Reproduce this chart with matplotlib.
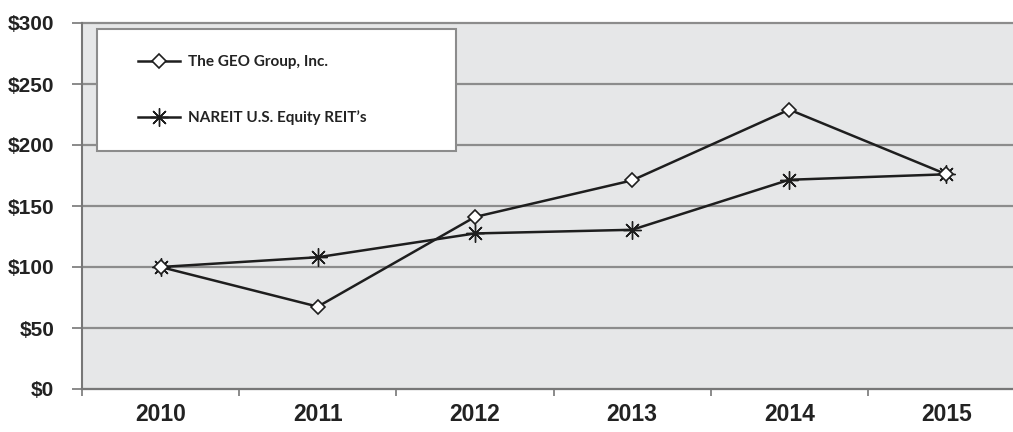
import numpy as np
import matplotlib
matplotlib.use("Agg")
import matplotlib.pyplot as plt
from matplotlib.patches import Rectangle

# values (indexed to $100 in 2010)
years = ["2010", "2011", "2012", "2013", "2014", "2015"]
geo_values = [100, 67.5, 141, 171, 229, 176]
nareit_values = [100, 108, 127.5, 130.5, 171.5, 176]
y_ticks = [0, 50, 100, 150, 200, 250, 300]
y_labels = ["$0", "$50", "$100", "$150", "$200", "$250", "$300"]
series_names = ["The GEO Group, Inc.", "NAREIT U.S. Equity REIT\u2019s"]

W, H = 1013, 432
fig = plt.figure(figsize=(W / 100, H / 100), dpi=100)
fig.patch.set_facecolor("white")

# axes runs a bit past the right edge of the image, like the original crop
ax = fig.add_axes([82 / W, 43 / H, (1025 - 82) / W, (389 - 23) / H])
ax.set_facecolor("#e6e7e8")

x = np.arange(len(years))
line_col = "#1e1e1e"
ax.plot(x, geo_values, color=line_col, lw=1.8, marker="D", ms=7,
        mfc="white", mec=line_col, mew=1.2, label=series_names[0], zorder=4)
ax.plot(x, nareit_values, color=line_col, lw=1.8, marker=(8, 2, 0), ms=13,
        mec=line_col, mew=1.0, label=series_names[1], zorder=3)

ax.set_xlim(-0.5, len(years) - 0.5)
ax.set_ylim(0, 300)

# gridlines
ax.set_yticks(y_ticks)
ax.set_yticklabels(y_labels)
ax.yaxis.grid(True, color="#8c8c8c", lw=1.6)
for gl in ax.get_ygridlines():
    gl.set_clip_on(False)
ax.set_axisbelow(True)

# category labels in the middle, tick marks at the boundaries
ax.set_xticks(np.arange(len(years) + 1) - 0.5)
ax.set_xticklabels([])
ax.set_xticks(x, minor=True)
ax.set_xticklabels(years, minor=True)
ax.tick_params(axis="x", which="major", length=5, width=1.2, color="#777777", direction="out")
ax.tick_params(axis="x", which="minor", length=0, pad=10)
ax.tick_params(axis="y", length=7, width=1.2, color="#777777", pad=13)

for lab in ax.get_xticklabels(minor=True):
    lab.set_fontfamily("Liberation Sans")
    lab.set_fontweight("bold")
    lab.set_fontsize(16.5)
    lab.set_color("#222222")
for lab in ax.get_yticklabels():
    lab.set_fontfamily("Liberation Sans")
    lab.set_fontweight("bold")
    lab.set_fontsize(15)
    lab.set_color("#222222")

for side in ["top", "right"]:
    ax.spines[side].set_visible(False)
for side in ["left", "bottom"]:
    ax.spines[side].set_color("#777777")
    ax.spines[side].set_linewidth(1.5)

# legend box
box = Rectangle((97 / W, 1 - 151 / H), (456 - 97) / W, (151 - 29) / H,
                transform=fig.transFigure, facecolor="white", edgecolor="#8c8c8c",
                lw=1.5, zorder=5)
fig.patches.append(box)

leg = fig.legend(loc="upper left", bbox_to_anchor=(138 / W, 1 - 55 / H),
                 frameon=False, borderpad=0, borderaxespad=0,
                 handlelength=2.75, handletextpad=0.5, labelspacing=2.7,
                 prop={"family": "Lato", "weight": "bold", "size": 11})
leg.set_zorder(6)
for t in leg.get_texts():
    t.set_color("#222222")

fig.savefig("out.png", dpi=100)
